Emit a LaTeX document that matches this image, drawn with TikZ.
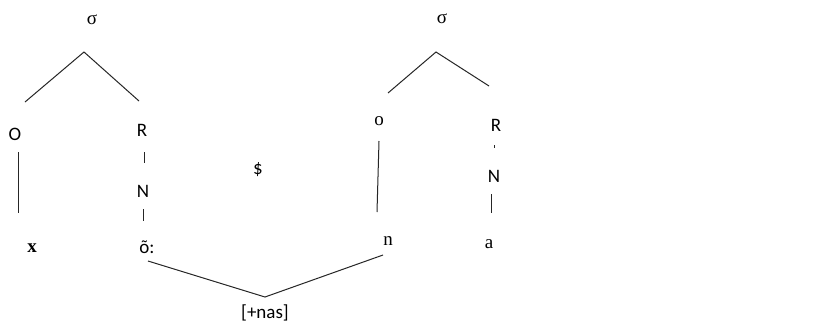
\documentclass[tikz,border=0pt]{standalone}
\usepackage{fontspec}
\setmainfont{Liberation Serif}
\newfontfamily\calib{Carlito}
\begin{document}
\begin{tikzpicture}[x=1pt,y=-1pt,
  sans/.style={inner sep=0pt,font=\calib\fontsize{19}{22}\selectfont},
  serif/.style={inner sep=0pt,font=\fontsize{19}{22}\selectfont},
  ln/.style={draw=black!85,line width=1pt}]
\useasboundingbox[fill=white] (0,0) rectangle (818,327);
% left syllable
\node[serif] (s1) at (92,20) {σ};
\node[sans] (O1) at (15,134) {O};
\node[sans] (R1) at (142,130) {R};
\node[sans] (N1) at (143,191) {N};
\node[serif] (x1) at (32,248) {\textbf{x}};
\node[sans] (o1) at (147,247) {õ:};
\coordinate (a1) at (84,52);
\coordinate (l1) at (25,102);
\coordinate (r1) at (139,101);
\draw[ln] (l1) -- (a1) -- (r1);
\coordinate (Ob) at (18,152);
\coordinate (Oe) at (18,213);
\draw[ln] (Ob) -- (Oe);
\coordinate (Rb) at (144,152);
\coordinate (Re) at (144,163);
\draw[ln] (Rb) -- (Re);
\coordinate (Nb) at (143,209);
\coordinate (Ne) at (143,221);
\draw[ln] (Nb) -- (Ne);
% boundary
\node[sans] (dol) at (258,170) {\$};
% right syllable
\node[serif] (s2) at (442,19) {σ};
\node[serif] (o2) at (379,121) {o};
\node[sans] (R2) at (496,125) {R};
\node[sans] (N2) at (494,176) {N};
\node[serif] (n2) at (388,241) {n};
\node[serif] (a2) at (489,244) {a};
\coordinate (a2t) at (436,52);
\coordinate (l2) at (388,93);
\coordinate (r2) at (489,86);
\draw[ln] (l2) -- (a2t) -- (r2);
\coordinate (ob) at (379,141);
\coordinate (oe) at (377,212);
\draw[ln] (ob) -- (oe);
\coordinate (Rdb) at (494,145);
\coordinate (Rde) at (494,148);
\draw[ln] (Rdb) -- (Rde);
\coordinate (N2b) at (491,194);
\coordinate (N2e) at (491,213);
\draw[ln] (N2b) -- (N2e);
% nasal spreading
\node[sans] (nas) at (265,313) {[+nas]};
\coordinate (cs) at (148,261);
\coordinate (cv) at (265,297);
\coordinate (ce) at (383,255);
\draw[ln] (cs) -- (cv) -- (ce);
\end{tikzpicture}
\end{document}
